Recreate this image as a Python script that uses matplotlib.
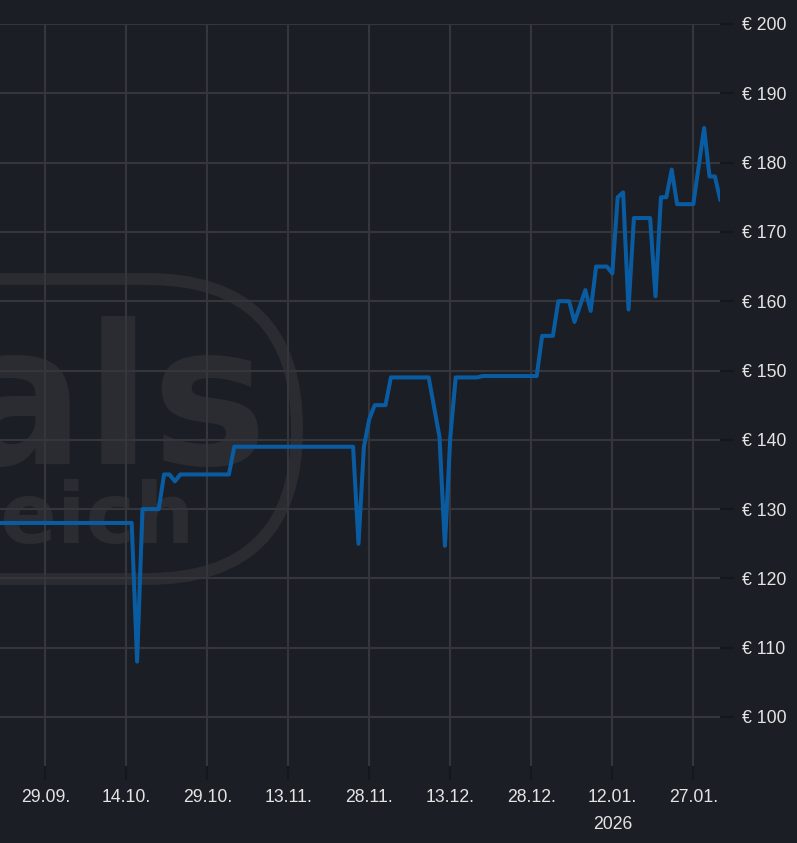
import matplotlib
matplotlib.use("Agg")
import matplotlib.pyplot as plt
import matplotlib.dates as mdates
from matplotlib.patches import FancyBboxPatch
import numpy as np
import pandas as pd

# ─── DATA ────────────────────────────────────────────────────────────────────
dates = [
    "2025-09-18", "2025-10-15", "2025-10-16", "2025-10-17", "2025-10-20",
    "2025-10-21", "2025-10-22", "2025-10-23", "2025-10-24", "2025-11-02",
    "2025-11-03", "2025-11-25", "2025-11-26", "2025-11-27", "2025-11-28",
    "2025-11-29", "2025-12-01", "2025-12-02", "2025-12-09", "2025-12-11",
    "2025-12-12", "2025-12-13", "2025-12-14", "2025-12-18", "2025-12-19",
    "2025-12-29", "2025-12-30", "2026-01-01", "2026-01-02", "2026-01-04",
    "2026-01-05", "2026-01-07", "2026-01-08", "2026-01-09", "2026-01-11",
    "2026-01-12", "2026-01-13", "2026-01-14", "2026-01-15", "2026-01-16",
    "2026-01-19", "2026-01-20", "2026-01-21", "2026-01-22", "2026-01-23",
    "2026-01-24", "2026-01-27", "2026-01-29", "2026-01-30", "2026-01-31",
    "2026-02-01",
]
prices = [
    128, 128, 108, 130, 130,
    135, 135, 134, 135, 135,
    139, 139, 125, 139, 143,
    145, 145, 149, 149, 140.4,
    124.7, 140.4, 149, 149, 149.2,
    149.2, 155, 155, 160, 160,
    157, 161.6, 158.6, 165, 165,
    164, 175, 175.7, 158.8, 172,
    172, 160.7, 175, 175, 179,
    174, 174, 185, 178, 178,
    174.6,
]
y_ticks = [100, 110, 120, 130, 140, 150, 160, 170, 180, 190, 200]
x_ticks = ["2025-09-29", "2025-10-14", "2025-10-29", "2025-11-13", "2025-11-28",
           "2025-12-13", "2025-12-28", "2026-01-12", "2026-01-27"]
year_label = "2026"
watermark_big = "geizhals"
watermark_small = "preisvergleich"

# ─── STYLE ───────────────────────────────────────────────────────────────────
BG = "#1b1e24"
GRID = "#34363c"
TICK = "#15171b"
TEXT = "#e4e4e4"
LINE = "#0a5ca2"
MARK = "#2a2c32"

plt.rcParams["font.family"] = ["Liberation Sans", "DejaVu Sans"]

W, H = 797, 843
fig = plt.figure(figsize=(W / 100, H / 100), dpi=100, facecolor=BG)

# background layer for the watermark (pixel coordinates)
bg = fig.add_axes([0, 0, 1, 1], zorder=0)
bg.set_xlim(0, W)
bg.set_ylim(H, 0)
bg.axis("off")
bg.add_patch(FancyBboxPatch((-300, 279), 597, 300,
                            boxstyle="round,pad=0,rounding_size=150",
                            fill=False, ec=MARK, lw=8.6))
bg.text(268, 464, watermark_big, ha="right", va="baseline", color=MARK,
        fontsize=140, fontweight="bold", family="DejaVu Sans")
bg.text(194, 543, watermark_small, ha="right", va="baseline", color=MARK,
        fontsize=60, fontweight="bold", family="DejaVu Sans")

# main chart
ax = fig.add_axes([0, (H - 766) / H, 720 / W, (766 - 24) / H], zorder=1)
ax.set_facecolor("none")

x = pd.to_datetime(dates)
ax.plot(x, prices, color=LINE, lw=2.9, solid_capstyle="round", zorder=3)

base = mdates.date2num(pd.Timestamp("2025-09-29"))
ax.set_xlim(base - 45.3 / 5.4, base + (720 - 45.3) / 5.4)
ax.set_ylim(100 - (766 - 717) / 6.93, 200)

ax.yaxis.tick_right()
ax.set_yticks(y_ticks)
ax.set_yticklabels([f"€ {v}" for v in y_ticks])

xt = pd.to_datetime(x_ticks)
ax.set_xticks(xt)
labels = []
for d in xt:
    lab = d.strftime("%d.%m.")
    if d.strftime("%Y") == year_label and d.month == 1 and d.day == 12:
        lab += "\n" + year_label
    labels.append(lab)
ax.set_xticklabels(labels, linespacing=1.75)

ax.grid(True, color=GRID, lw=1.5)
ax.set_axisbelow(True)
for s in ax.spines.values():
    s.set_visible(False)
ax.tick_params(axis="both", colors=TICK, labelcolor=TEXT, labelsize=12.7,
               length=10, width=1.5)
ax.tick_params(axis="x", pad=6.5)
ax.tick_params(axis="y", pad=6)

fig.savefig("out.png", dpi=100, facecolor=BG)
